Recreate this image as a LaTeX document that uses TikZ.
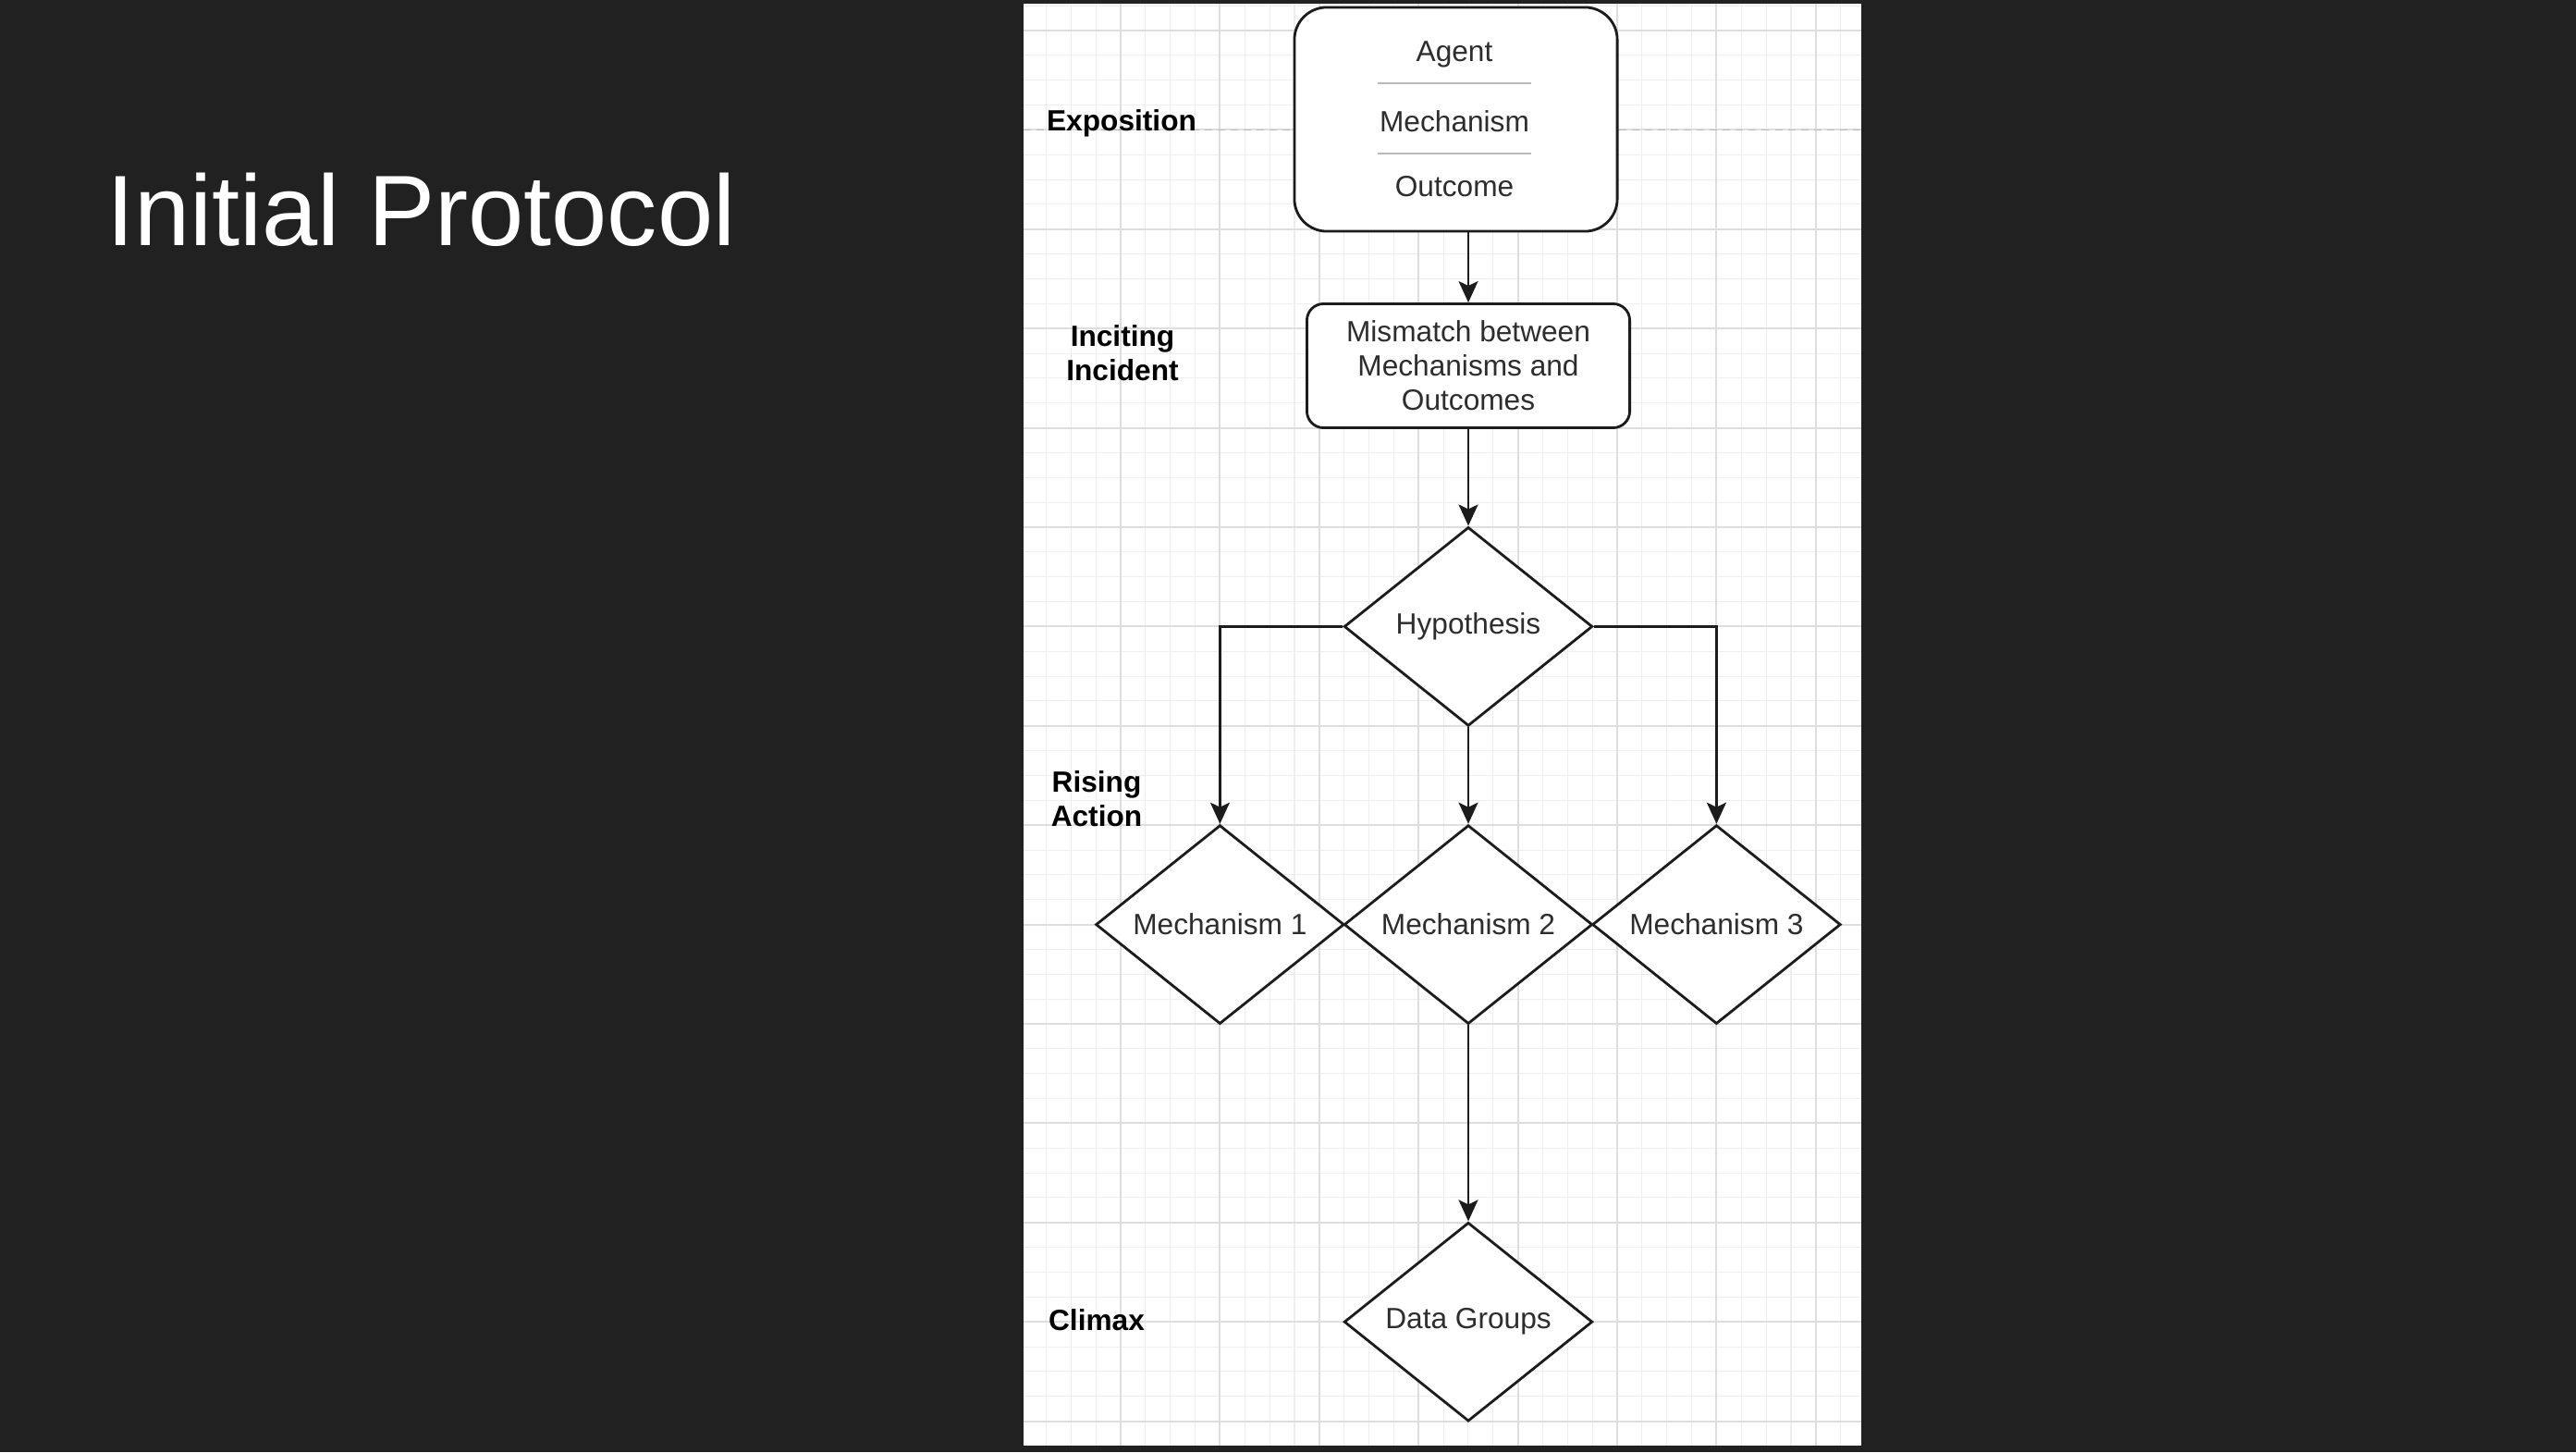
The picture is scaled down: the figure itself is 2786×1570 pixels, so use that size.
\documentclass[tikz,border=0pt]{standalone}
\usepackage{fontspec}
\setmainfont{Liberation Sans}
\usetikzlibrary{arrows,arrows.meta,shapes.geometric}
\definecolor{slidebg}{RGB}{33,33,33}
\definecolor{gridminor}{RGB}{238,238,238}
\definecolor{gridmajor}{RGB}{222,222,222}
\definecolor{ink}{RGB}{28,28,28}
\definecolor{txt}{RGB}{45,45,45}

\begin{document}
\begin{tikzpicture}[x=0.01cm,y=-0.01cm]
\tikzset{box/.style={draw=ink, line width=0.8pt, fill=white, rounded corners=3.5mm, minimum width=3.49cm, minimum height=2.42cm, inner sep=0pt}}
\tikzset{boxtext/.style={inner sep=0pt, text=txt, font=\fontsize{9}{10.5}\selectfont}}
\tikzset{decision/.style={diamond, aspect=1.25, draw=ink, line width=0.8pt, fill=white, minimum width=2.685cm, minimum height=2.148cm, inner sep=1pt, text=txt, font=\fontsize{9}{10.5}\selectfont}}
\tikzset{stage/.style={align=center, inner sep=0pt, text=black, font=\bfseries\fontsize{9}{10.5}\selectfont}}
\tikzset{sep/.style={draw=gray!55, line width=0.7pt}}
\tikzset{flow/.style={draw=ink, line width=0.65pt, -{Stealth[length=2.3mm,width=2.1mm,inset=0.5mm]}}}

\useasboundingbox (0,0) rectangle (2786,1570);
\fill[slidebg] (0,0) rectangle (2786,1570);
\node[anchor=base west, inner sep=0pt, text=white, font=\fontsize{30.8}{36}\selectfont] (title) at (114.5,266) {Initial Protocol};

\fill[white] (1107,4) rectangle (2013,1563);
\begin{scope}
\clip (1107,4) rectangle (2013,1563);
\foreach \k in {0,...,33} \draw[gridminor, line width=0.3pt] ({1104.6+\k*26.85},4) -- ++(0,1559);
\foreach \k in {0,...,57} \draw[gridminor, line width=0.3pt] (1107,{6.15+\k*26.85}) -- ++(906,0);
\foreach \k in {0,...,8} \draw[gridmajor, line width=0.6pt] ({1104.6+\k*107.4},4) -- ++(0,1559);
\foreach \k in {0,...,14} \draw[gridmajor, line width=0.6pt] (1107,{33+\k*107.4}) -- ++(906,0);
\end{scope}
\draw[gray!55, line width=0.5pt, dash pattern=on 0.8mm off 0.6mm] (1107,140.4) -- (2013,140.4);

\node[box] (expo) at (1574.5,129) {};
\node[boxtext, anchor=base] (agent) at (1573,67) {Agent};
\node[boxtext, anchor=base] (mech) at (1573,143) {Mechanism};
\node[boxtext, anchor=base] (outcome) at (1573,213) {Outcome};
\draw[sep] (1490,90) -- (1656,90);
\draw[sep] (1490,166) -- (1656,166);

\node[box, rounded corners=1.8mm, minimum height=1.34cm, align=center, text=txt, font=\fontsize{9}{10.5}\selectfont] (mismatch) at (1588,395.5) {Mismatch between\\Mechanisms and\\Outcomes};
\node[decision] (hyp) at (1588,677.4) {Hypothesis};
\node[decision] (mechA) at (1319.4,999.6) {Mechanism 1};
\node[decision] (mechB) at (1588,999.6) {Mechanism 2};
\node[decision] (mechC) at (1856.4,999.6) {Mechanism 3};
\node[decision] (data) at (1588,1429.2) {Data Groups};

\node[stage, anchor=base] (lblexpo) at (1213,142) {Exposition};
\node[stage] (lblinc) at (1214,382) {Inciting\\Incident};
\node[stage] (lblrise) at (1186,864) {Rising\\Action};
\node[stage, anchor=base] (lblclimax) at (1186,1438) {Climax};

\draw[flow] (expo.south -| mismatch.north) -- (mismatch.north);
\draw[flow] (mismatch) -- (hyp);
\draw[flow] (hyp.west) -| (mechA.north);
\draw[flow] (hyp.east) -| (mechC.north);
\draw[flow] (hyp) -- (mechB);
\draw[flow] (mechB) -- (data);
\end{tikzpicture}
\end{document}
